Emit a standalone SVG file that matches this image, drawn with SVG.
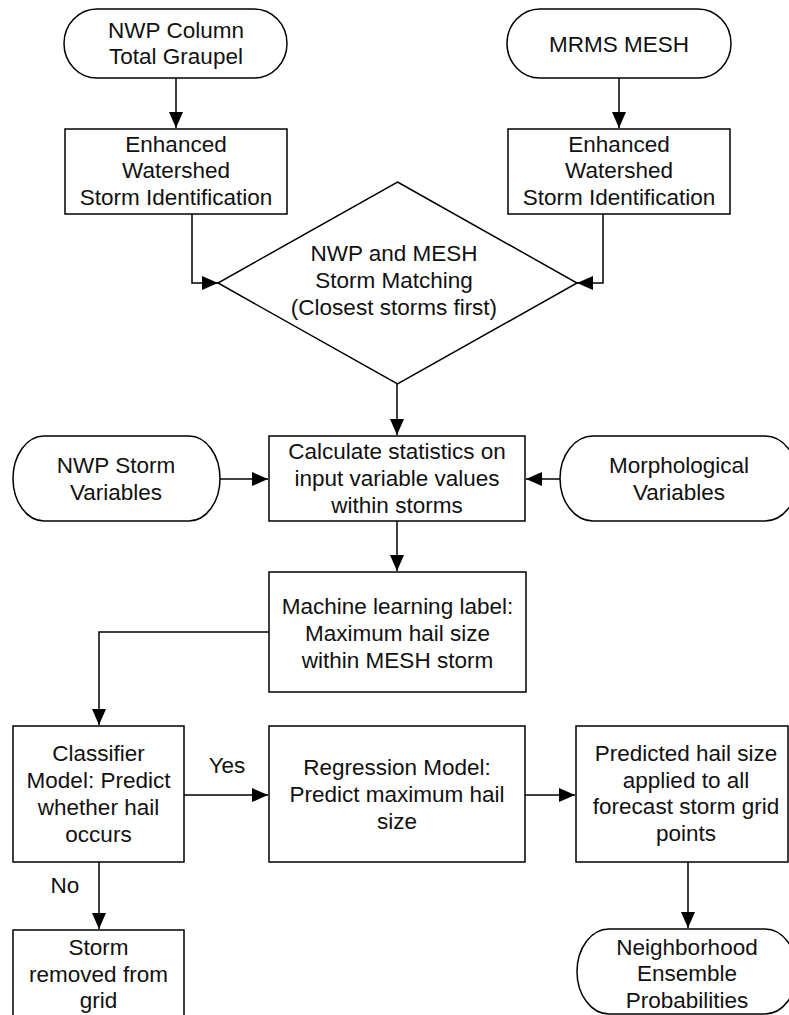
<svg xmlns="http://www.w3.org/2000/svg" width="789" height="1015" viewBox="0 0 789 1015">
<style>
.s{fill:#fff;stroke:#000;stroke-width:1.5}
.t{font-family:"Liberation Sans",Arial,Helvetica,sans-serif;font-size:22.5px;fill:#111;text-anchor:middle}
.c{fill:none;stroke:#000;stroke-width:1.5}
</style>
<defs>
<marker id="a" markerUnits="userSpaceOnUse" markerWidth="16" markerHeight="14" refX="16" refY="7" orient="auto">
<path d="M0,0 L16,7 L0,14 z" fill="#000"/>
</marker>
</defs>
<rect width="789" height="1015" fill="#fff"/>
<g id="connectors">
<path class="c" d="M176,78 V128" marker-end="url(#a)"/>
<path class="c" d="M619,78 V128" marker-end="url(#a)"/>
<path class="c" d="M192,214 V283 H218" marker-end="url(#a)"/>
<path class="c" d="M603,214 V283 H577" marker-end="url(#a)"/>
<path class="c" d="M397,384 V435" marker-end="url(#a)"/>
<path class="c" d="M220,479 H268" marker-end="url(#a)"/>
<path class="c" d="M560,479 H526" marker-end="url(#a)"/>
<path class="c" d="M397,521 V571" marker-end="url(#a)"/>
<path class="c" d="M269,632 H99 V725" marker-end="url(#a)"/>
<path class="c" d="M184,795 H268" marker-end="url(#a)"/>
<path class="c" d="M525,795 H575" marker-end="url(#a)"/>
<path class="c" d="M99,862 V929" marker-end="url(#a)"/>
<path class="c" d="M688,862 V928" marker-end="url(#a)"/>
<text class="t" x="227" y="773">Yes</text>
<text class="t" x="65" y="893">No</text>
</g>
<g id="n1">
<rect class="s" x="64" y="9" width="223" height="69" rx="33" ry="34.5"/>
<text class="t" x="176" y="37.5">NWP Column</text>
<text class="t" x="176" y="64">Total Graupel</text>
</g>
<g id="n2">
<rect class="s" x="507" y="9" width="224" height="69" rx="33" ry="34.5"/>
<text class="t" x="619" y="52">MRMS MESH</text>
</g>
<g id="n3">
<rect class="s" x="65" y="129" width="222" height="85"/>
<text class="t" x="176" y="151.5">Enhanced</text>
<text class="t" x="176" y="178.3">Watershed</text>
<text class="t" x="176" y="205.2">Storm Identification</text>
</g>
<g id="n4">
<rect class="s" x="508" y="129" width="222" height="85"/>
<text class="t" x="619" y="151.5">Enhanced</text>
<text class="t" x="619" y="178.3">Watershed</text>
<text class="t" x="619" y="205.2">Storm Identification</text>
</g>
<g id="n5">
<polygon class="s" points="397.5,182 577,283 397.5,384 218,283"/>
<text class="t" x="394" y="261">NWP and MESH</text>
<text class="t" x="394" y="288">Storm Matching</text>
<text class="t" x="394" y="315">(Closest storms first)</text>
</g>
<g id="n6">
<rect class="s" x="13" y="436" width="207" height="85" rx="31" ry="42.5"/>
<text class="t" x="116" y="473">NWP Storm</text>
<text class="t" x="116" y="500">Variables</text>
</g>
<g id="n7">
<rect class="s" x="269" y="436" width="256" height="85"/>
<text class="t" x="397" y="459">Calculate statistics on</text>
<text class="t" x="397" y="486">input variable values</text>
<text class="t" x="397" y="513">within storms</text>
</g>
<g id="n8">
<rect class="s" x="560" y="436" width="238" height="85" rx="33" ry="42.5"/>
<text class="t" x="679" y="473">Morphological</text>
<text class="t" x="679" y="500">Variables</text>
</g>
<g id="n9">
<rect class="s" x="269" y="572" width="257" height="120"/>
<text class="t" x="397.5" y="614">Machine learning label:</text>
<text class="t" x="397.5" y="641">Maximum hail size</text>
<text class="t" x="397.5" y="668">within MESH storm</text>
</g>
<g id="n10">
<rect class="s" x="13" y="726" width="171" height="136"/>
<text class="t" x="98.5" y="761">Classifier</text>
<text class="t" x="98.5" y="788">Model: Predict</text>
<text class="t" x="98.5" y="814.5">whether hail</text>
<text class="t" x="98.5" y="841.5">occurs</text>
</g>
<g id="n11">
<rect class="s" x="269" y="726" width="256" height="136"/>
<text class="t" x="397" y="775">Regression Model:</text>
<text class="t" x="397" y="802">Predict maximum hail</text>
<text class="t" x="397" y="828.5">size</text>
</g>
<g id="n12">
<rect class="s" x="576" y="726" width="212" height="136"/>
<text class="t" x="686" y="761">Predicted hail size</text>
<text class="t" x="686" y="787.7">applied to all</text>
<text class="t" x="686" y="814.4">forecast storm grid</text>
<text class="t" x="686" y="841">points</text>
</g>
<g id="n13">
<rect class="s" x="13" y="930" width="171" height="90"/>
<text class="t" x="98.5" y="955">Storm</text>
<text class="t" x="98.5" y="981.5">removed from</text>
<text class="t" x="98.5" y="1008">grid</text>
</g>
<g id="n14">
<rect class="s" x="577" y="929" width="220" height="85" rx="32" ry="42.5"/>
<text class="t" x="687" y="954.5">Neighborhood</text>
<text class="t" x="687" y="981">Ensemble</text>
<text class="t" x="687" y="1007.5">Probabilities</text>
</g>
</svg>
